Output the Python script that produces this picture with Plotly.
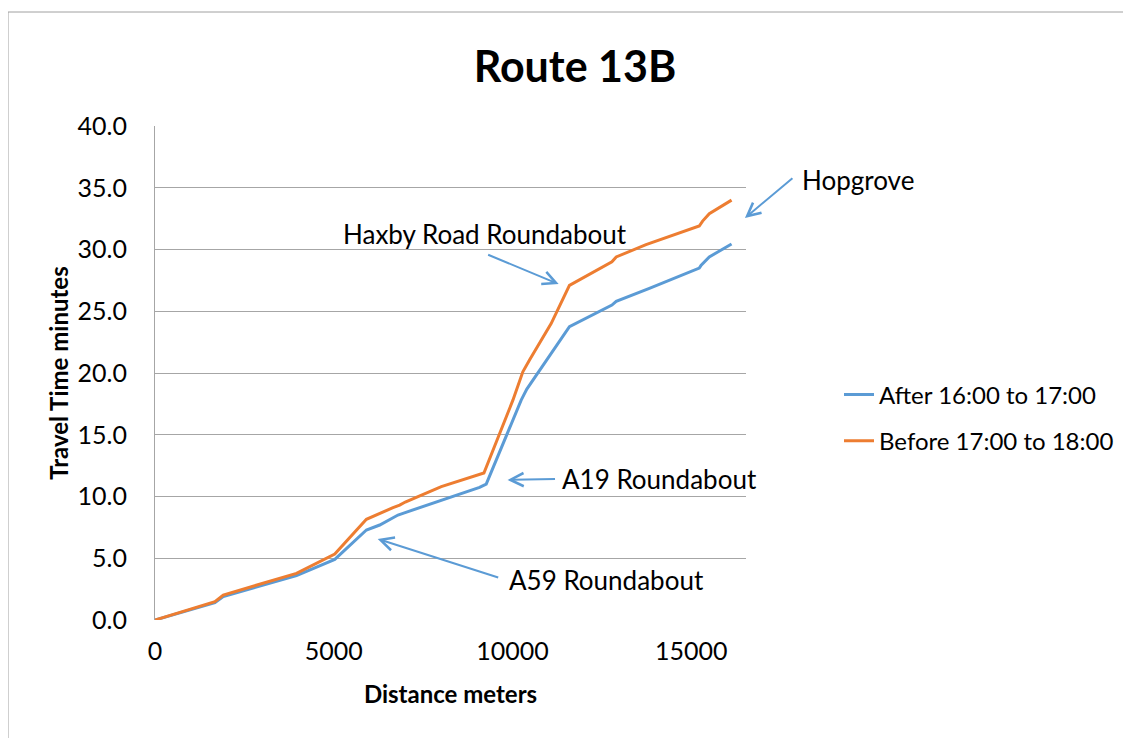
import plotly.graph_objects as go

# Data
after_x = [0, 1676, 1909, 3957, 5028, 5913, 6285, 6796, 6936, 8000, 9078, 9264,
           10242, 10400, 11080, 11592, 12780, 12900, 13827, 14665, 15223, 15270, 15503, 16126]
after_y = [0, 1.40, 1.90, 3.60, 4.91, 7.29, 7.69, 8.50, 8.64, 9.70, 10.74, 11.0,
           17.8, 18.7, 21.6, 23.75, 25.5, 25.8, 26.86, 27.85, 28.5, 28.7, 29.4, 30.45]

before_x = [0, 1676, 1909, 3957, 5028, 5913, 6657, 6844, 7000, 8008, 9200,
            10010, 10288, 10475, 11080, 11592, 12780, 12900, 13734, 14665, 15223, 15316, 15503, 16126]
before_y = [0, 1.48, 2.02, 3.78, 5.34, 8.15, 9.10, 9.30, 9.55, 10.8, 11.9,
            17.8, 20.1, 21.05, 24.0, 27.1, 29.0, 29.4, 30.4, 31.3, 31.9, 32.3, 32.9, 34.0]

series_names = ["After 16:00 to 17:00", "Before 17:00 to 18:00"]
series_colors = ["#5B9BD5", "#ED7D31"]

x_ticks = [0, 5000, 10000, 15000]
y_ticks = [0, 5, 10, 15, 20, 25, 30, 35, 40]

# annotation labels and the data points their arrows point at
labels = ["Haxby Road Roundabout", "Hopgrove", "A19 Roundabout", "A59 Roundabout"]
head_x = [11290, 16500, 9860, 6229]
head_y = [27.2, 32.55, 11.34, 6.56]

FONT = "Lato"

# page offset (browser body margin)
OX, OY = 8, 8
L, T, R, B = 155 - OX, 126 - OY, 1131 - (746 - OX), 738 - (620 - OY)
PW, PH = 591, 494

fig = go.Figure()
fig.add_trace(go.Scatter(x=after_x, y=after_y, mode="lines", name=series_names[0],
                         legendgroup="a",
                         line=dict(color=series_colors[0], width=3)))
fig.add_trace(go.Scatter(x=before_x, y=before_y, mode="lines", name=series_names[1],
                         legendgroup="b",
                         line=dict(color=series_colors[1], width=3)))

# arrow tails in pixel offsets relative to heads
tails = [(-72, -30), (49, -41), (49, -1), (122, 39)]
for hx, hy, (ax, ay) in zip(head_x, head_y, tails):
    fig.add_annotation(x=hx, y=hy, xref="x", yref="y", text="", showarrow=True,
                       ax=ax, ay=ay, arrowhead=5, arrowsize=1.3, arrowwidth=2,
                       arrowcolor="#5B9BD5")

# annotation texts (page pixel positions of their left/middle)
text_px = [(341, 234), (800, 180), (560, 479), (507, 580)]
for label, (px, py) in zip(labels, text_px):
    fig.add_annotation(x=(px - 155) / PW, y=(620 - py) / PH, xref="paper", yref="paper",
                       text=label, showarrow=False, xanchor="left", yanchor="middle",
                       font=dict(family=FONT, size=26, color="#000000"))

fig.add_shape(type="rect", xref="paper", yref="paper",
              x0=(8 - 155) / PW, x1=3, y0=-2, y1=(620 - 12) / PH,
              line=dict(color="#A0A0A0", width=1), layer="below")

fig.update_layout(
    width=1131, height=738,
    margin=dict(l=L, r=R, t=T, b=B),
    paper_bgcolor="white", plot_bgcolor="white",
    title=dict(text="<b>Route 13B</b>", x=(575 - OX) / 1131, xanchor="center",
               y=1 - (67 - OY) / 738, yanchor="middle",
               font=dict(family=FONT, size=43, color="#000000")),
    font=dict(family=FONT, color="#000000"),
    legend=dict(x=(839 - 155) / PW, y=(620 - 418) / PH, xanchor="left", yanchor="middle",
                font=dict(family=FONT, size=24), tracegroupgap=12,
                bgcolor="rgba(0,0,0,0)"),
    xaxis=dict(range=[0, 16530], tickvals=x_ticks, tickformat="d", showgrid=False,
               zeroline=False, showline=False, ticks="", ticklabelstandoff=14,
               tickfont=dict(family=FONT, size=25),
               title=dict(text="<b>Distance meters</b>", font=dict(family=FONT, size=24),
                          standoff=22)),
    yaxis=dict(range=[0, 40], tickvals=y_ticks, tickformat=".1f", showgrid=True,
               gridcolor="#A6A6A6", gridwidth=1, zeroline=False, showline=True,
               linecolor="#A6A6A6", linewidth=1, ticks="", ticklabelstandoff=22,
               tickfont=dict(family=FONT, size=25),
               title=dict(text="<b>Travel Time minutes</b>", font=dict(family=FONT, size=24),
                          standoff=2)),
)

fig.write_html("out.html")
